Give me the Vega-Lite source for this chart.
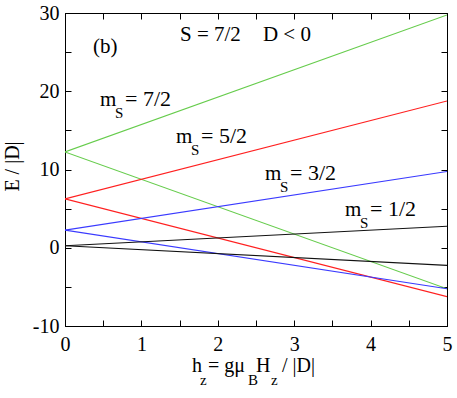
{
  "$schema": "https://vega.github.io/schema/vega-lite/v6.json",
  "width": 382,
  "height": 313,
  "autosize": {"type": "none"},
  "padding": {"left": 65, "top": 13, "right": 10, "bottom": 72},
  "background": "white",
  "config": {
    "view": {"stroke": "black", "strokeWidth": 1},
    "axis": {
      "labelFont": "Liberation Serif",
      "labelFontSize": 20,
      "labelColor": "black",
      "tickColor": "black",
      "domainColor": "black",
      "grid": false,
      "labelOverlap": false,
      "labelFlush": false
    },
    "text": {"font": "Liberation Serif", "fontSize": 21, "color": "black", "align": "left", "baseline": "alphabetic"}
  },
  "datasets": {
    "levels": [
      {"h": 0, "E": 12.25, "m": "7/2", "id": "+7/2"},
      {"h": 5, "E": 29.75, "m": "7/2", "id": "+7/2"},
      {"h": 0, "E": 12.25, "m": "7/2", "id": "-7/2"},
      {"h": 5, "E": -5.25, "m": "7/2", "id": "-7/2"},
      {"h": 0, "E": 6.25, "m": "5/2", "id": "+5/2"},
      {"h": 5, "E": 18.75, "m": "5/2", "id": "+5/2"},
      {"h": 0, "E": 6.25, "m": "5/2", "id": "-5/2"},
      {"h": 5, "E": -6.25, "m": "5/2", "id": "-5/2"},
      {"h": 0, "E": 2.25, "m": "3/2", "id": "+3/2"},
      {"h": 5, "E": 9.75, "m": "3/2", "id": "+3/2"},
      {"h": 0, "E": 2.25, "m": "3/2", "id": "-3/2"},
      {"h": 5, "E": -5.25, "m": "3/2", "id": "-3/2"},
      {"h": 0, "E": 0.25, "m": "1/2", "id": "+1/2"},
      {"h": 5, "E": 2.75, "m": "1/2", "id": "+1/2"},
      {"h": 0, "E": 0.25, "m": "1/2", "id": "-1/2"},
      {"h": 5, "E": -2.25, "m": "1/2", "id": "-1/2"}
    ],
    "mlabels": [
      {"h": 0.458, "E": 18.12, "lab": "= 7/2"},
      {"h": 1.453, "E": 13.39, "lab": "= 5/2"},
      {"h": 2.618, "E": 8.66, "lab": "= 3/2"},
      {"h": 3.665, "E": 4.06, "lab": "= 1/2"}
    ],
    "notes": [
      {"h": 0.366, "E": 24.9, "t": "(b)"},
      {"h": 1.505, "E": 26.43, "t": "S = 7/2"},
      {"h": 2.59, "E": 26.43, "t": "D < 0"}
    ],
    "xtitle": [
      {"h": 1.662, "E": -15.87}
    ],
    "frame": [
      {"h": 0, "E": 0}
    ]
  },
  "layer": [
    {
      "encoding": {
        "x": {
          "field": "h", "type": "quantitative",
          "scale": {"domain": [0, 5], "nice": false, "zero": false},
          "axis": {
            "orient": "bottom",
            "values": [0, 0.5, 1, 1.5, 2, 2.5, 3, 3.5, 4, 4.5, 5],
            "labelExpr": "datum.value % 1 === 0 ? '' + datum.value : ''",
            "title": null,
            "tickSize": -6,
            "labelPadding": 14
          }
        },
        "y": {
          "field": "E", "type": "quantitative",
          "scale": {"domain": [-10, 30], "nice": false, "zero": false},
          "axis": {
            "orient": "left",
            "values": [-10, -5, 0, 5, 10, 15, 20, 25, 30],
            "labelExpr": "datum.value % 10 === 0 ? '' + datum.value : ''",
            "title": "E / |D|",
            "titleFont": "Liberation Serif",
            "titleFontSize": 20,
            "titleFontWeight": "normal",
            "titleColor": "black",
            "titleAngle": -90,
            "titleAlign": "center",
            "titleBaseline": "middle",
            "titleX": -53,
            "titleY": 153,
            "tickSize": -6,
            "labelPadding": 12
          }
        }
      },
      "layer": [
        {
          "data": {"name": "levels"},
          "mark": {"type": "line", "strokeWidth": 1.1, "clip": true},
          "encoding": {
            "color": {
              "field": "m", "type": "nominal",
              "scale": {"domain": ["7/2", "5/2", "3/2", "1/2"], "range": ["#66cc4c", "#ff2020", "#3a3aff", "#111111"]},
              "legend": null
            },
            "detail": {"field": "id"}
          }
        },
        {
          "data": {"name": "mlabels"},
          "mark": {"type": "text", "text": "m"}
        },
        {
          "data": {"name": "mlabels"},
          "mark": {"type": "text", "text": "S", "fontSize": 15, "dx": 15, "dy": 12}
        },
        {
          "data": {"name": "mlabels"},
          "mark": {"type": "text", "dx": 25, "fontSize": 22},
          "encoding": {"text": {"field": "lab"}}
        },
        {
          "data": {"name": "notes"},
          "mark": {"type": "text"},
          "encoding": {"text": {"field": "t"}}
        },
        {
          "data": {"name": "xtitle"},
          "mark": {"type": "text", "text": "h", "fontSize": 20}
        },
        {
          "data": {"name": "xtitle"},
          "mark": {"type": "text", "text": "z", "fontSize": 15, "dx": 8, "dy": 13}
        },
        {
          "data": {"name": "xtitle"},
          "mark": {"type": "text", "text": "= gμ", "fontSize": 20, "dx": 16}
        },
        {
          "data": {"name": "xtitle"},
          "mark": {"type": "text", "text": "B", "fontSize": 15, "dx": 56, "dy": 13}
        },
        {
          "data": {"name": "xtitle"},
          "mark": {"type": "text", "text": "H", "fontSize": 20, "dx": 64}
        },
        {
          "data": {"name": "xtitle"},
          "mark": {"type": "text", "text": "z", "fontSize": 15, "dx": 79, "dy": 13}
        },
        {
          "data": {"name": "xtitle"},
          "mark": {"type": "text", "text": "/ |D|", "fontSize": 20, "dx": 90}
        }
      ]
    },
    {
      "data": {"name": "frame"},
      "mark": {"type": "point", "opacity": 0},
      "encoding": {
        "x": {
          "field": "h", "type": "quantitative",
          "scale": {"domain": [0, 5], "nice": false, "zero": false},
          "axis": {
            "orient": "top",
            "values": [0, 0.5, 1, 1.5, 2, 2.5, 3, 3.5, 4, 4.5, 5],
            "labels": false, "title": null, "tickSize": -6
          }
        },
        "y": {
          "field": "E", "type": "quantitative",
          "scale": {"domain": [-10, 30], "nice": false, "zero": false},
          "axis": {
            "orient": "right",
            "values": [-10, -5, 0, 5, 10, 15, 20, 25, 30],
            "labels": false, "title": null, "tickSize": -6
          }
        }
      }
    }
  ],
  "resolve": {"scale": {"x": "independent", "y": "independent"}}
}
